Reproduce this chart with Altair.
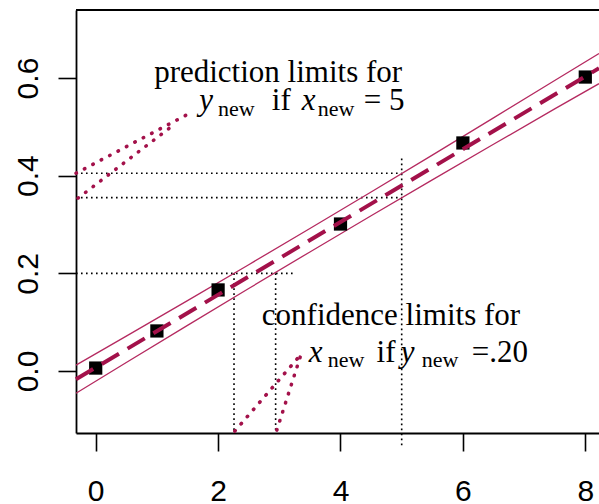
import altair as alt
import pandas as pd

# ---- observed data ----
x_obs = [0, 1, 2, 4, 6, 8]
y_obs = [0.006, 0.082, 0.166, 0.301, 0.467, 0.602]

# ---- fitted line (read at the plot edges) ----
fit_x = [-0.322, 8.224]
fit_y = [-0.017, 0.620]

# ---- limit bands ----
band_x = [-0.322, 0.5, 1.5, 2.5, 3.5, 4.5, 5.5, 6.5, 7.5, 8.224]
band_upper = [0.0119, 0.0713, 0.1442, 0.2177, 0.2918, 0.3667, 0.4422, 0.5183, 0.5949, 0.650]
band_lower = [-0.0455, 0.0173, 0.0934, 0.1689, 0.2438, 0.3179, 0.3914, 0.4643, 0.5367, 0.5885]

# ---- axes ----
X_DOMAIN = [-0.322, 8.224]
Y_DOMAIN = [-0.127, 0.7393]
x_ticks = [0, 2, 4, 6, 8]
y_ticks = [0.0, 0.2, 0.4, 0.6]

# ---- black dotted guide segments ----
guide_x = [-0.322, -0.322, 5.0, -0.322, 2.26, 2.94]
guide_y = [0.405, 0.355, 0.435, 0.2, 0.2, 0.2]
guide_x2 = [5.0, 5.0, 5.0, 3.22, 2.26, 2.94]
guide_y2 = [0.405, 0.355, -0.156, 0.2, -0.127, -0.127]

# ---- red dotted pointer segments ----
ptr_x = [-0.322, -0.289, 2.274, 2.960]
ptr_y = [0.405, 0.354, -0.123, -0.121]
ptr_x2 = [1.507, 1.229, 3.319, 3.352]
ptr_y2 = [0.526, 0.4997, 0.0287, 0.0328]

# ---- annotation text pieces ----
roman_txt = ["prediction limits for", "if", "= 5", "confidence limits for", "if", "=.20"]
roman_x = [0.955, 2.878, 4.38, 2.715, 4.59, 6.144]
roman_y = [0.592, 0.5345, 0.5345, 0.0942, 0.0184, 0.0184]
ital_txt = ["y", "x", "x", "y"]
ital_x = [1.690, 3.368, 3.482, 4.985]
ital_y = [0.5345, 0.5345, 0.0184, 0.0184]
sub_txt = ["new", "new", "new", "new"]
sub_x = [2.0, 3.63, 3.79, 5.327]
sub_y = [0.522, 0.522, 0.0082, 0.0082]

RED = "#A3114A"
BAND = "#B52A60"

xs = alt.Scale(domain=X_DOMAIN, nice=False, zero=False)
ys = alt.Scale(domain=Y_DOMAIN, nice=False, zero=False)

x_axis = alt.Axis(values=x_ticks, format="d", title=None, grid=False,
                  tickSize=18, tickWidth=1.6, tickColor="black",
                  domainWidth=1.8, domainColor="black",
                  labelFont="Liberation Sans", labelFontSize=30, labelColor="black",
                  labelBaseline="alphabetic", labelAlign="center", labelPadding=49,
                  labelFlush=False, labelOverlap=False)
y_axis = alt.Axis(values=y_ticks, format=".1f", title=None, grid=False,
                  tickSize=18, tickWidth=1.6, tickColor="black",
                  domainWidth=1.8, domainColor="black",
                  labelFont="Liberation Sans", labelFontSize=30, labelColor="black",
                  labelAngle=270, labelAlign="center", labelBaseline="alphabetic",
                  labelPadding=21, labelFlush=False, labelOverlap=False)

obs = pd.DataFrame({"x": x_obs, "y": y_obs})
fit = pd.DataFrame({"x": fit_x, "y": fit_y})
band = pd.concat([
    pd.DataFrame({"x": band_x, "y": band_upper, "side": "upper"}),
    pd.DataFrame({"x": band_x, "y": band_lower, "side": "lower"}),
])
guides = pd.DataFrame({"x": guide_x, "y": guide_y, "x2": guide_x2, "y2": guide_y2})
ptrs = pd.DataFrame({"x": ptr_x, "y": ptr_y, "x2": ptr_x2, "y2": ptr_y2})
frame_top = pd.DataFrame({"x": [X_DOMAIN[0]], "x2": [X_DOMAIN[1]], "y": [Y_DOMAIN[1]]})
roman = pd.DataFrame({"t": roman_txt, "x": roman_x, "y": roman_y})
ital = pd.DataFrame({"t": ital_txt, "x": ital_x, "y": ital_y})
sub = pd.DataFrame({"t": sub_txt, "x": sub_x, "y": sub_y})

base_x = alt.X("x:Q", scale=xs, axis=x_axis)
base_y = alt.Y("y:Q", scale=ys, axis=y_axis)

top_rule = alt.Chart(frame_top).mark_rule(color="black", strokeWidth=2).encode(
    x=alt.X("x:Q", scale=xs, axis=x_axis), x2="x2:Q", y=alt.Y("y:Q", scale=ys, axis=y_axis))

guide_layer = alt.Chart(guides).mark_rule(color="black", strokeWidth=1.6,
                                          strokeDash=[1.6, 3.4]).encode(
    x=base_x, y=base_y, x2="x2:Q", y2="y2:Q")

ptr_layer = alt.Chart(ptrs).mark_rule(color=RED, strokeWidth=3.6, strokeCap="round",
                                      strokeDash=[0.5, 9]).encode(
    x=base_x, y=base_y, x2="x2:Q", y2="y2:Q")

band_layer = alt.Chart(band).mark_line(color=BAND, strokeWidth=1.3).encode(
    x=base_x, y=base_y, detail="side:N")

pts = alt.Chart(obs).mark_point(shape="square", filled=True, color="black",
                                size=175, opacity=1).encode(x=base_x, y=base_y)

fit_layer = alt.Chart(fit).mark_line(color=RED, strokeWidth=4,
                                     strokeDash=[20, 10]).encode(x=base_x, y=base_y)

roman_layer = alt.Chart(roman).mark_text(font="Liberation Serif", fontSize=31, align="left",
                                          baseline="alphabetic", color="black").encode(
    x=base_x, y=base_y, text="t:N")
ital_layer = alt.Chart(ital).mark_text(font="Liberation Serif", fontSize=31, fontStyle="italic",
                                        align="left", baseline="alphabetic", color="black").encode(
    x=base_x, y=base_y, text="t:N")
sub_layer = alt.Chart(sub).mark_text(font="Liberation Serif", fontSize=22, align="left",
                                      baseline="alphabetic", color="black").encode(
    x=base_x, y=base_y, text="t:N")

chart = alt.layer(
    top_rule, guide_layer, ptr_layer, band_layer, pts, fit_layer,
    roman_layer, ital_layer, sub_layer
).properties(
    width=523, height=423,
    autosize=alt.AutoSizeParams(type="none"),
    padding={"left": 76, "top": 10, "right": 0, "bottom": 71},
    background="white",
).configure_view(stroke=None)

chart.save("out.html", embed_options={"renderer": "svg", "actions": False})
